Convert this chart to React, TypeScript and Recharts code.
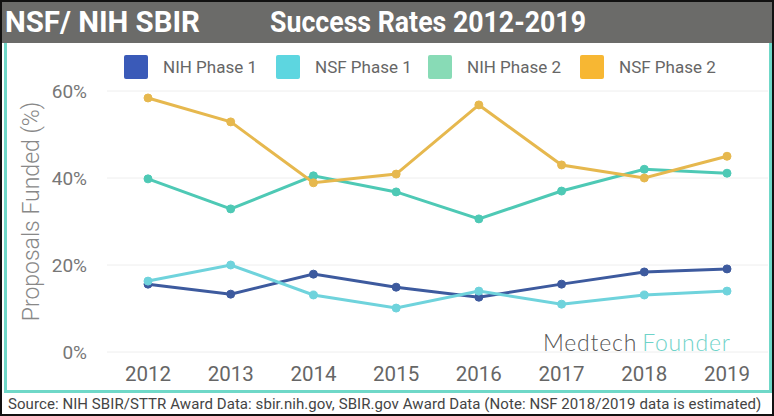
import React from 'react';
import { LineChart, Line, XAxis, YAxis, CartesianGrid, Legend } from 'recharts';

const years = ['2012', '2013', '2014', '2015', '2016', '2017', '2018', '2019'];
const nihPhase1 = [15.6, 13.3, 17.9, 14.9, 12.6, 15.6, 18.4, 19.1];
const nsfPhase1 = [16.3, 20.0, 13.1, 10.1, 14.0, 11.0, 13.1, 14.0];
const nihPhase2 = [39.8, 32.9, 40.5, 36.8, 30.6, 37.0, 42.0, 41.1];
const nsfPhase2 = [58.4, 52.9, 38.9, 40.9, 56.8, 43.0, 40.0, 45.0];
const yTicks = [0, 20, 40, 60];

const SERIES = [
  { key: 'nih1', name: 'NIH Phase 1', color: '#3d5a9e', swatch: '#3a5ab8' },
  { key: 'nsf1', name: 'NSF Phase 1', color: '#6fd3dc', swatch: '#5dd6e0' },
  { key: 'nih2', name: 'NIH Phase 2', color: '#4ec9b5', swatch: '#88dbb6' },
  { key: 'nsf2', name: 'NSF Phase 2', color: '#e6b84e', swatch: '#f7b733' },
];

const data = years.map((year, i) => ({
  year,
  nih1: nihPhase1[i],
  nsf1: nsfPhase1[i],
  nih2: nihPhase2[i],
  nsf2: nsfPhase2[i],
}));

const FONT = 'Roboto, sans-serif';

const renderLegend = () => (
  <div style={{ display: 'flex', paddingLeft: 124, fontFamily: FONT }}>
    {SERIES.map((s) => (
      <div
        key={s.key}
        style={{ display: 'flex', alignItems: 'center', width: 152 }}
      >
        <div
          style={{
            width: 24,
            height: 24,
            background: s.swatch,
            borderRadius: 2,
            marginRight: 15,
          }}
        />
        <span style={{ fontSize: 17, color: '#666' }}>{s.name}</span>
      </div>
    ))}
  </div>
);

export default function App() {
  return (
    <div
      style={{
        position: 'absolute',
        left: 0,
        top: 0,
        width: 774,
        height: 416,
        boxSizing: 'border-box',
        border: '2px solid #111',
        background: '#fff',
        overflow: 'hidden',
        fontFamily: FONT,
      }}
    >
      {/* header bar */}
      <div
        style={{
          position: 'absolute',
          left: 0,
          top: 0,
          width: 770,
          height: 41,
          background: '#6b6b69',
          color: '#fff',
          fontWeight: 700,
          fontSize: 30,
          lineHeight: '40px',
        }}
      >
        <span
          style={{
            position: 'absolute',
            left: 3,
            top: 0,
            transform: 'scaleX(0.98)',
            transformOrigin: 'left',
            whiteSpace: 'nowrap',
          }}
        >
          NSF/ NIH SBIR
        </span>
        <span
          style={{
            position: 'absolute',
            left: 268,
            top: 0,
            transform: 'scaleX(0.89)',
            transformOrigin: 'left',
            whiteSpace: 'nowrap',
          }}
        >
          Success Rates 2012-2019
        </span>
      </div>

      {/* teal frame */}
      <div
        style={{
          position: 'absolute',
          left: 2,
          top: 41,
          width: 768,
          height: 350,
          boxSizing: 'border-box',
          borderLeft: '3px solid #6fd8c8',
          borderRight: '3px solid #6fd8c8',
          borderBottom: '3px solid #6fd8c8',
        }}
      />

      <div style={{ position: 'absolute', left: -2, top: 41 }}>
        <LineChart
          width={774}
          height={350}
          data={data}
          margin={{ top: 24, right: 6, bottom: 0, left: 0 }}
        >
          <CartesianGrid vertical={false} stroke="#eeeeee" />
          <XAxis
            dataKey="year"
            axisLine={false}
            tickLine={false}
            height={41}
            padding={{ left: 41, right: 41 }}
            tick={{ fontSize: 20.5, fill: '#666', fontFamily: FONT }}
            tickMargin={8}
          />
          <YAxis
            domain={[0, 60]}
            ticks={yTicks}
            tickFormatter={(v) => `${v}%`}
            axisLine={false}
            tickLine={false}
            width={107}
            tick={{ fontSize: 19, fill: '#777', fontFamily: FONT }}
            tickMargin={14}
            label={{
              value: 'Proposals Funded (%)',
              angle: -90,
              position: 'insideLeft',
              offset: 31,
              dy: -10,
              style: {
                fontSize: 23,
                fontWeight: 300,
                fill: '#888',
                fontFamily: FONT,
                textAnchor: 'middle',
              },
            }}
          />
          <Legend
            verticalAlign="top"
            align="left"
            content={renderLegend}
            wrapperStyle={{ top: 12, left: 0 }}
          />
          {SERIES.map((s) => (
            <Line
              key={s.key}
              type="linear"
              dataKey={s.key}
              name={s.name}
              stroke={s.color}
              strokeWidth={3}
              dot={{ r: 4, fill: s.color, stroke: s.color, strokeWidth: 1 }}
              isAnimationActive={false}
            />
          ))}
        </LineChart>
      </div>

      {/* watermark */}
      <div
        style={{
          position: 'absolute',
          left: 541,
          top: 326,
          fontFamily: 'Lato, sans-serif',
          fontWeight: 300,
          fontSize: 23,
          letterSpacing: 0.8,
          whiteSpace: 'nowrap',
        }}
      >
        <span style={{ color: '#555' }}>Medtech</span>
        <span style={{ color: '#6fd3c9', marginLeft: 5 }}>Founder</span>
      </div>

      {/* source footer */}
      <div
        style={{
          position: 'absolute',
          left: 6,
          top: 393,
          fontSize: 15,
          letterSpacing: 0.07,
          color: '#444',
          whiteSpace: 'nowrap',
        }}
      >
        Source: NIH SBIR/STTR Award Data: sbir.nih.gov, SBIR.gov Award Data
        (Note: NSF 2018/2019 data is estimated)
      </div>
    </div>
  );
}
